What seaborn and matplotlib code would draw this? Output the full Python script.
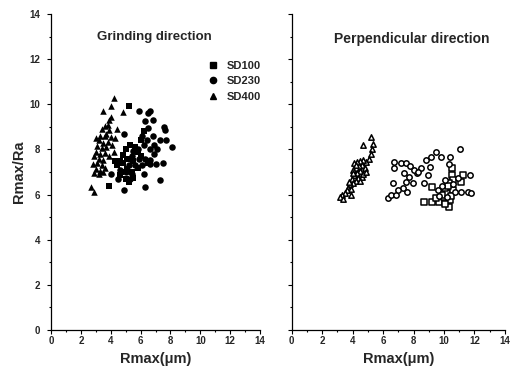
import matplotlib
matplotlib.use("Agg")
import matplotlib.pyplot as plt
from matplotlib.lines import Line2D
from matplotlib.ticker import MultipleLocator
import pandas as pd
import seaborn as sns

sns.set_style("ticks")
plt.rcParams['font.family'] = ['Liberation Sans', 'DejaVu Sans']
plt.rcParams['font.weight'] = 'bold'

# ---- grinding direction (filled markers) ----
g400_x = [4.2, 4.05, 3.5, 4.8, 4.05, 3.6, 3.8, 3.4, 3.9, 3.3, 3.6, 4.0, 4.3, 3.2, 3.5, 3.8, 3.1, 3.4,
          3.7, 4.1, 3.0, 3.3, 3.6, 2.9, 3.2, 3.5, 3.9, 2.8, 3.1, 3.4, 3.0, 3.3, 3.6, 2.9, 3.2, 2.7,
          2.9, 4.4, 3.7, 4.2, 3.5, 3.0, 3.9]
g400_y = [10.3, 9.95, 9.7, 9.65, 9.45, 9.05, 9.1, 8.9, 8.85, 8.6, 8.6, 8.55, 8.5, 8.4, 8.3, 8.35, 8.15, 8.05,
          8.1, 8.2, 7.9, 7.8, 7.85, 7.7, 7.6, 7.55, 7.7, 7.35, 7.4, 7.3, 7.15, 7.05, 7.2, 6.95, 6.9, 6.35,
          6.12, 8.9, 8.7, 7.9, 7.0, 8.5, 9.3]

g230_x = [5.9, 6.5, 6.6, 6.3, 6.8, 6.5, 7.6, 7.65, 7.7, 8.1, 6.1, 6.4, 6.9, 6.2, 5.8, 6.6, 7.1, 7.3,
          5.4, 5.9, 6.3, 6.6, 7.0, 7.5, 5.2, 5.6, 6.1, 6.6, 4.6, 5.0, 5.4, 6.2, 4.0, 4.9, 6.3, 7.3,
          4.9, 5.5, 6.8, 4.5, 5.3, 6.9]
g230_y = [9.7, 9.6, 9.7, 9.25, 9.3, 8.95, 9.0, 8.85, 8.4, 8.1, 8.6, 8.4, 8.2, 8.2, 8.0, 8.0, 8.0, 8.4,
          7.7, 7.6, 7.6, 7.55, 7.35, 7.4, 7.3, 7.3, 7.3, 7.35, 7.1, 7.0, 6.9, 6.9, 6.9, 6.2, 6.35, 6.65,
          8.7, 7.95, 8.6, 6.7, 6.7, 7.8]

g100_x = [5.2, 5.0, 5.3, 4.6, 4.8, 5.1, 5.5, 5.8, 4.4, 4.7, 5.0, 5.2, 5.5, 5.8, 6.0, 4.3, 3.9, 5.1,
          5.6, 6.0, 4.6, 6.5, 4.8, 5.4, 6.2]
g100_y = [9.95, 8.0, 8.2, 7.5, 7.4, 7.6, 7.5, 7.9, 7.3, 7.0, 6.7, 6.55, 6.75, 7.2, 7.7, 7.5, 6.4, 7.15,
          8.1, 8.4, 6.85, 7.4, 7.75, 7.0, 8.8]

# ---- perpendicular direction (open markers) ----
p400_x = [5.2, 5.35, 5.3, 4.65, 5.2, 5.1, 4.9, 4.7, 4.5, 4.3, 4.1, 4.6, 4.4, 4.2, 4.0, 4.8, 4.5, 4.3,
          4.1, 3.95, 4.6, 4.35, 4.2, 4.0, 3.85, 4.5, 3.7, 3.9, 3.6, 3.5, 3.3, 3.15, 3.35, 3.9, 4.7,
          4.9, 4.0, 4.2, 3.75]
p400_y = [8.55, 8.25, 8.0, 8.2, 7.8, 7.6, 7.45, 7.55, 7.5, 7.45, 7.4, 7.3, 7.25, 7.2, 7.1, 7.2, 7.05, 6.95,
          6.85, 6.7, 6.8, 6.75, 6.6, 6.5, 6.45, 6.6, 6.3, 6.25, 6.2, 6.05, 6.0, 5.9, 5.8, 6.0, 6.9,
          7.0, 6.95, 7.3, 6.55]

p230_x = [6.3, 6.5, 6.85, 6.65, 6.75, 6.75, 7.2, 7.5, 7.4, 7.5, 7.6, 7.95, 8.2, 8.5, 8.7, 8.85, 9.15, 9.5,
          9.8, 10.3, 10.4, 11.05, 11.7, 11.6, 11.8, 11.1, 8.95, 9.05, 7.3, 7.7, 8.0, 7.8, 7.0, 9.6,
          9.9, 10.1, 10.6, 10.9, 10.2, 9.7, 10.7, 8.3]
p230_y = [5.83, 6.0, 6.0, 6.5, 7.2, 7.46, 7.4, 7.4, 6.94, 6.57, 6.13, 6.5, 6.94, 7.16, 6.5, 7.53, 7.68, 7.9,
          7.68, 7.34, 7.68, 8.02, 6.87, 6.13, 6.06, 6.13, 6.87, 7.24, 6.3, 6.8, 7.1, 7.25, 6.2, 6.2,
          6.4, 6.65, 6.45, 6.75, 5.9, 5.95, 6.1, 7.0]

p100_x = [8.7, 9.2, 9.2, 10.3, 10.5, 10.55, 10.6, 10.3, 11.1, 11.25, 9.7, 10.0, 10.2, 10.4, 10.1, 9.9,
          10.35, 10.6, 10.05, 10.45, 9.5, 10.25]
p100_y = [5.69, 5.69, 6.35, 6.2, 7.16, 6.87, 6.65, 5.47, 6.57, 6.87, 5.69, 5.9, 6.05, 5.75, 6.3, 6.0,
          6.5, 6.2, 5.6, 5.95, 5.85, 6.4]

grind = pd.concat([
    pd.DataFrame({'Rmax': g100_x, 'ratio': g100_y, 'wheel': 'SD100'}),
    pd.DataFrame({'Rmax': g230_x, 'ratio': g230_y, 'wheel': 'SD230'}),
    pd.DataFrame({'Rmax': g400_x, 'ratio': g400_y, 'wheel': 'SD400'}),
])
perp = pd.concat([
    pd.DataFrame({'Rmax': p100_x, 'ratio': p100_y, 'wheel': 'SD100'}),
    pd.DataFrame({'Rmax': p230_x, 'ratio': p230_y, 'wheel': 'SD230'}),
    pd.DataFrame({'Rmax': p400_x, 'ratio': p400_y, 'wheel': 'SD400'}),
])
markers = {'SD100': 's', 'SD230': 'o', 'SD400': '^'}

fig = plt.figure(figsize=(5.21, 3.72), dpi=100)
ax1 = fig.add_axes([0.098, 0.113, 0.401, 0.849])
ax2 = fig.add_axes([0.560, 0.113, 0.409, 0.849])

for w, m in markers.items():
    d = grind[grind['wheel'] == w]
    sns.scatterplot(data=d, x='Rmax', y='ratio', marker=m, color='black', s=22,
                    edgecolor='black', linewidth=0, ax=ax1)
    d = perp[perp['wheel'] == w]
    sns.scatterplot(data=d, x='Rmax', y='ratio', marker=m, facecolor='white', s=15,
                    edgecolor='black', linewidth=1.1, ax=ax2)

for ax in (ax1, ax2):
    ax.set_xlim(0, 14)
    ax.set_ylim(0, 14)
    ax.xaxis.set_major_locator(MultipleLocator(2))
    ax.yaxis.set_major_locator(MultipleLocator(2))
    ax.xaxis.set_minor_locator(MultipleLocator(1))
    ax.yaxis.set_minor_locator(MultipleLocator(1))
    ax.tick_params(which='major', direction='out', length=3, width=0.8, color='black',
                   labelsize=7)
    ax.tick_params(which='minor', direction='out', length=1.5, width=0.8, color='black')
    ax.tick_params(axis='x', pad=1)
    ax.tick_params(axis='y', pad=5)
    for lab in ax.get_xticklabels() + ax.get_yticklabels():
        lab.set_fontweight('bold')
    sns.despine(ax=ax)
    for sp in ('left', 'bottom'):
        ax.spines[sp].set_linewidth(0.9)
        ax.spines[sp].set_color('black')
    ax.set_xlabel('Rmax(\u03bcm)', fontsize=10.5, fontweight='bold', labelpad=5)

ax1.set_ylabel('Rmax/Ra', fontsize=10.5, fontweight='bold', labelpad=2)
ax2.set_ylabel('')
ax2.tick_params(axis='y', labelleft=False)

ax1.text(6.9, 13.0, 'Grinding direction', ha='center', va='center', fontsize=9.5, fontweight='bold')
ax2.text(7.9, 12.9, 'Perpendicular direction', ha='center', va='center', fontsize=10, fontweight='bold')

handles = [Line2D([], [], linestyle='none', marker=m, color='black', markersize=4.5, label=w)
           for w, m in markers.items()]
ax1.legend(handles=handles, loc='upper left', bbox_to_anchor=(0.72, 0.87), frameon=False,
           handletextpad=0.8, labelspacing=0.5, handlelength=1.0,
           borderpad=0, prop={'weight': 'bold', 'size': 8})

fig.savefig('out.png', dpi=100)
